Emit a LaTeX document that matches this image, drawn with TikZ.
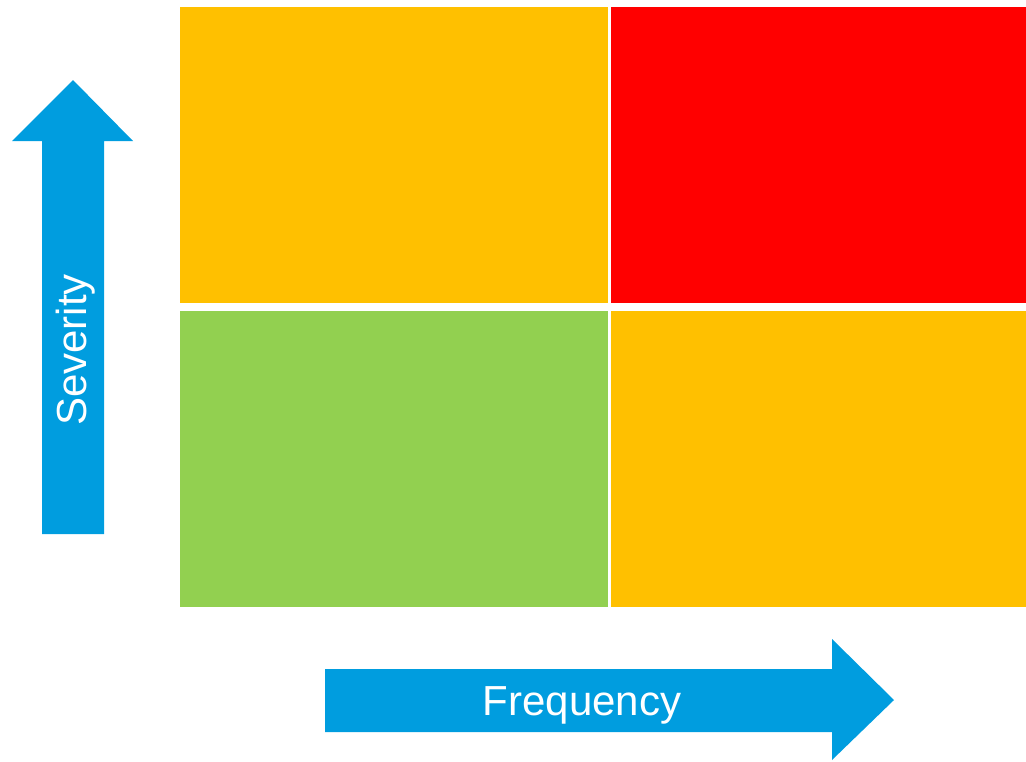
\documentclass[tikz,border=0pt]{standalone}
\usepackage{fontspec}
\setmainfont{Liberation Sans}
\definecolor{cOrange}{HTML}{FFC000}
\definecolor{cRed}{HTML}{FF0000}
\definecolor{cGreen}{HTML}{92D050}
\definecolor{cBlue}{HTML}{009DDF}
\begin{document}
\begin{tikzpicture}[x=1pt,y=-1pt,
  cell/.style={draw=none},
  bigarrow/.style={fill=cBlue,draw=none},
  axislabel/.style={text=white,font=\fontsize{42}{50}\selectfont,inner sep=0pt}]
\useasboundingbox (0,0) rectangle (1026,761);
% quadrants
\fill[cOrange] (180,7) rectangle (608,303);
\fill[cRed] (611,7) rectangle (1026,303);
\fill[cGreen] (180,311) rectangle (608,607);
\fill[cOrange] (611,311) rectangle (1026,607);
% up arrow
\fill[bigarrow] (42,534) -- (42,141) -- (12,141) -- (73,80) -- (133,141) -- (104,141) -- (104,534) -- cycle;
\node[axislabel,rotate=90] (sev) at (76,350) {Severity};
% right arrow
\fill[bigarrow] (325,669) -- (832,669) -- (832,639) -- (894,700) -- (832,760) -- (832,732) -- (325,732) -- cycle;
\node[axislabel] (freq) at (582,705) {Frequency};
\end{tikzpicture}
\end{document}
